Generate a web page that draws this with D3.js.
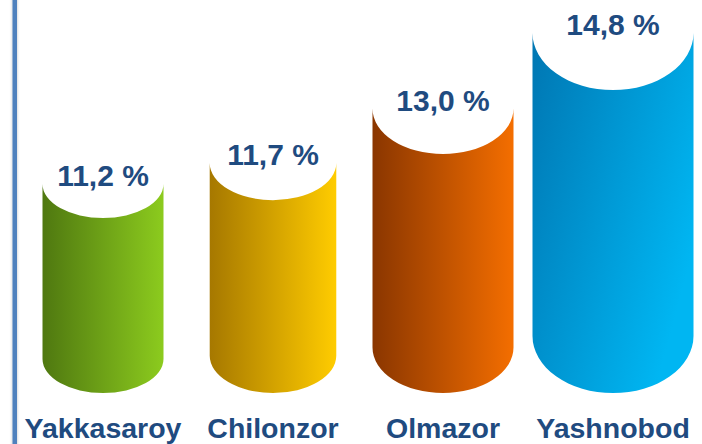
<!DOCTYPE html>
<html>
<head>
<meta charset="utf-8">
<script src="https://cdn.jsdelivr.net/npm/d3@7"></script>
<style>
  body { margin: 0; background: #fff; }
  svg { display: block; }
  text { font-family: "Liberation Sans", Arial, sans-serif; font-weight: bold; fill: #1f4b80; }
</style>
</head>
<body>
<div id="chart"></div>
<script>
// districts and their share
var districts = ["Yakkasaroy", "Chilonzor", "Olmazor", "Yashnobod"];
var shares = [11.2, 11.7, 13.0, 14.8];
var shareLabels = ["11,2 %", "11,7 %", "13,0 %", "14,8 %"];
// gradient colours, dark side -> light side
var darkColors = ["#4f7810", "#a67800", "#8a3600", "#0076b2"];
var lightColors = ["#8ccb1e", "#ffcc00", "#f46e00", "#00b6f2"];

var width = 702, height = 444;
var baseY = 393; // lowest point of the cylinders

var svg = d3.select("#chart").append("svg")
    .attr("width", width)
    .attr("height", height);

var defs = svg.append("defs");

// soft shadow for the left border
var f = defs.append("filter").attr("id", "shadow")
    .attr("x", "-200%").attr("y", "-10%").attr("width", "500%").attr("height", "120%");
f.append("feGaussianBlur").attr("in", "SourceAlpha").attr("stdDeviation", 1.6).attr("result", "b");
f.append("feFlood").attr("flood-color", "#000").attr("flood-opacity", 0.25);
f.append("feComposite").attr("in2", "b").attr("operator", "in");
var m = f.append("feMerge");
m.append("feMergeNode");
m.append("feMergeNode").attr("in", "SourceGraphic");

svg.append("rect")
    .attr("x", 12.5).attr("y", -10)
    .attr("width", 4.5).attr("height", height + 20)
    .attr("fill", "#4f81bd")
    .attr("filter", "url(#shadow)");

districts.forEach(function (d, i) {
  var g = defs.append("linearGradient").attr("id", "grad" + i);
  if (i == 3) {
    g.attr("x1", "0%").attr("y1", "0%").attr("x2", "100%").attr("y2", "60%");
  } else {
    g.attr("x1", "0%").attr("y1", "0%").attr("x2", "100%").attr("y2", "0%");
  }
  g.append("stop").attr("offset", "0%").attr("stop-color", darkColors[i]);
  g.append("stop").attr("offset", "100%").attr("stop-color", lightColors[i]);
});

var ext = d3.extent(shares);

// centre x of each cylinder
var x = d3.scalePoint()
    .domain(districts)
    .range([103, 613]);

// y of the centre of the top face
var y = d3.scaleLinear()
    .domain(ext)
    .range([184, 33]);

// horizontal and vertical radius of the cylinder grows with value
var rx = d3.scaleLinear().domain(ext).range([60.5, 80.5]);
var ry = d3.scaleLinear().domain(ext).range([34, 57]);

function cylinder(d, i) {
  var v = shares[i];
  var cx = x(d), a = rx(v), b = ry(v);
  var top = y(v), bot = baseY - b;
  return "M" + (cx - a) + "," + top +
    "L" + (cx - a) + "," + bot +
    "A" + a + "," + b + " 0 0 0 " + (cx + a) + "," + bot +
    "L" + (cx + a) + "," + top +
    "A" + a + "," + b + " 0 0 1 " + (cx - a) + "," + top + "Z";
}

var bars = svg.selectAll(".bar")
    .data(districts)
    .enter().append("g")
    .attr("class", "bar");

bars.append("path")
    .attr("d", cylinder)
    .attr("fill", function (d, i) { return "url(#grad" + i + ")"; });

// value labels inside the white top face
bars.append("text")
    .attr("x", function (d) { return x(d); })
    .attr("y", function (d, i) { return y(shares[i]) + 2; })
    .attr("text-anchor", "middle")
    .style("font-size", "30px")
    .text(function (d, i) { return shareLabels[i]; });

// district names
bars.append("text")
    .attr("x", function (d) { return x(d); })
    .attr("y", 438)
    .attr("text-anchor", "middle")
    .style("font-size", "28.5px")
    .text(function (d) { return d; });
</script>
</body>
</html>
